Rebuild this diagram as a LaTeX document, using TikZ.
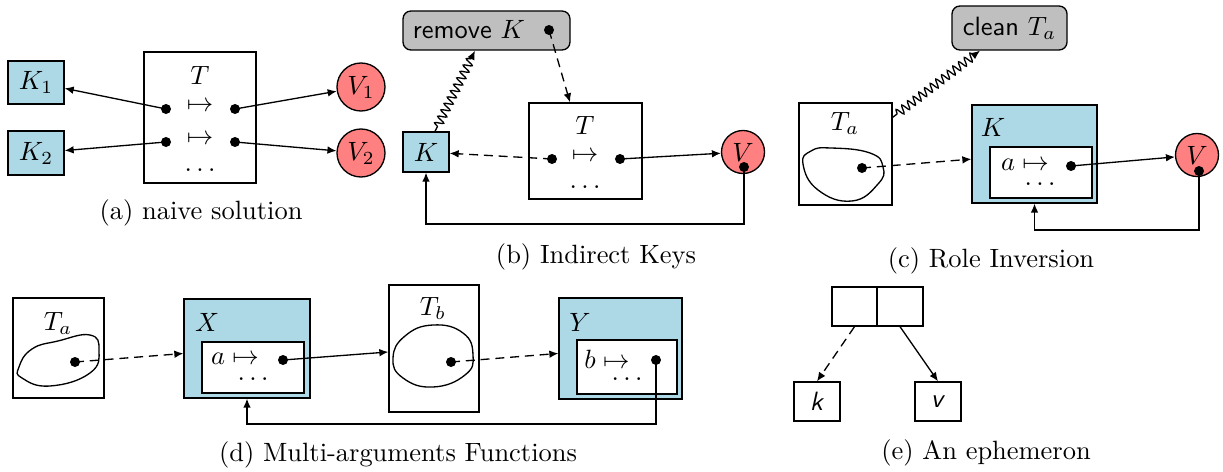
\documentclass[tikz,border=0pt]{standalone}
\usetikzlibrary{decorations.pathmorphing,calc,arrows.meta}
\definecolor{keyblue}{HTML}{ADD8E6}
\definecolor{valred}{HTML}{FF8080}
\newcommand\pxu{0.378pt}
\begin{document}
\begin{tikzpicture}[x=0.378pt,y=-0.378pt, line width=0.5pt, inner sep=0pt,
  keybox/.style={draw, fill=keyblue, inner sep=0},
  tblbox/.style={draw, fill=white, inner sep=0},
  valnode/.style={circle, draw, fill=valred, inner sep=0, minimum size=45*\pxu},
  dotn/.style={circle, fill=black, inner sep=0, minimum size=10*\pxu},
  actbox/.style={draw, fill=gray!50, rounded corners=3pt, inner sep=0},
  arr/.style={-{Latex[length=3.4pt,width=2.9pt]}},
  dasharr/.style={-{Latex[length=3.4pt,width=2.9pt]}, dash pattern=on 3.4pt off 2.2pt},
  snakearr/.style={-{Latex[length=3.4pt,width=2.9pt]}, decorate, decoration={snake, amplitude=1.6pt, segment length=2.7pt, pre length=2pt, post length=2.5pt}},
  blobline/.style={draw, smooth cycle, tension=0.8},
  capt/.style={inner sep=0}]
\useasboundingbox (0,0) rectangle (1223,472);

% ---------- (a) ----------
\node[keybox, minimum width=56*\pxu, minimum height=43*\pxu] (K1) at (36,82.5) {$K_1$};
\node[keybox, minimum width=56*\pxu, minimum height=44*\pxu] (K2) at (36,153) {$K_2$};
\node[tblbox, minimum width=112*\pxu, minimum height=131*\pxu] (Ta) at (200,117.5) {};
\node (TaL) at (200,75) {$T$};
\node[dotn] (a1l) at (166,109) {};
\node[dotn] (a1r) at (235,109) {};
\node (a1m) at (200,107) {$\mapsto$};
\node[dotn] (a2l) at (166,142) {};
\node[dotn] (a2r) at (235,142) {};
\node (a2m) at (200,140) {$\mapsto$};
\node (adots) at (200,170) {$\dots$};
\node[valnode, minimum size=48*\pxu] (V1) at (361,87) {$V_1$};
\node[valnode, minimum size=48*\pxu] (V2) at (361,153) {$V_2$};
\draw[arr] (a1l.center) -- (K1);
\draw[arr] (a2l.center) -- (K2);
\draw[arr] (a1r.center) -- (V1);
\draw[arr] (a2r.center) -- (V2);
\node[capt] (capa) at (201,213) {(a) naive solution};

% ---------- (b) ----------
\node[actbox, minimum width=167*\pxu, minimum height=39*\pxu] (remb) at (486.5,30.5) {};
\node (remt) at (469,30) {\textsf{remove} $K$};
\node[dotn] (remd) at (549,30) {};
\node[keybox, minimum width=46*\pxu, minimum height=40*\pxu] (Kb) at (426,152) {$K$};
\node[tblbox, minimum width=113*\pxu, minimum height=96*\pxu] (Tb) at (585.5,151) {};
\node (TbL) at (585,125) {$T$};
\node[dotn] (bl) at (552,159) {};
\node[dotn] (br) at (620,159) {};
\node (bm) at (585,157) {$\mapsto$};
\node (bdots) at (585,187) {$\dots$};
\node[valnode, minimum size=43*\pxu] (Vb) at (743,152) {$V$};
\node[dotn] (Vbd) at (744,167) {};
\draw[snakearr] ($(Kb.north)+(9,0)$) -- ($(remb.south)+(-11.5,0)$);
\draw[dasharr] (remd.center) -- ($(Tb.north)+(-15.5,0)$);
\draw[dasharr] (bl.center) -- (Kb);
\draw[arr] (br.center) -- (Vb);
\draw[arr] (Vbd.center) -- ++(0,57) -| (Kb.south);
\node[capt] (capb) at (596,257) {(b) Indirect Keys};

% ---------- (c) ----------
\node[actbox, minimum width=115*\pxu, minimum height=44*\pxu] (clean) at (1009.5,28) {\textsf{clean} $T_a$};
\node[tblbox, minimum width=93*\pxu, minimum height=102*\pxu] (Tc) at (845.5,154) {};
\node (TcL) at (845,123) {$T_a$};
\draw plot[blobline] coordinates {(803,164) (811,151) (831,148) (870,153) (883,167) (878,184) (852,201) (818,190)};
\node[dotn] (cd) at (862,168) {};
\node[keybox, minimum width=125*\pxu, minimum height=98*\pxu] (Kc) at (1034.5,154) {};
\node (KcL) at (993,127) {$K$};
\node[tblbox, minimum width=102*\pxu, minimum height=51*\pxu] (Ic) at (1041,172.5) {};
\node (cm) at (1025,165) {$a\mapsto$};
\node[dotn] (cdd) at (1071,166) {};
\node (cdots) at (1040,184) {$\dots$};
\node[valnode, minimum size=43*\pxu] (Vc) at (1197,155) {$V$};
\node[dotn] (Vcd) at (1199,171) {};
\draw[snakearr] ($(Tc.north east)+(0,15)$) -- ($(clean.south)+(-29.5,0)$);
\draw[dasharr] (cd.center) -- (Kc);
\draw[arr] (cdd.center) -- (Vc);
\draw[arr] (Vcd.center) -- ++(0,59) -| (Kc.south);
\node[capt] (capc) at (991,261) {(c) Role Inversion};

% ---------- (d) ----------
\node[tblbox, minimum width=91*\pxu, minimum height=100*\pxu] (Td) at (58.5,348) {};
\node (TdL) at (58,323) {$T_a$};
\draw plot[blobline] coordinates {(19,367) (32,349) (58,341) (90,335) (99,350) (90,373) (50,386) (22,378)};
\node[dotn] (dd1) at (75,362) {};
\node[keybox, minimum width=126*\pxu, minimum height=99*\pxu] (Xd) at (247,348.5) {};
\node (XdL) at (207,322) {$X$};
\node[tblbox, minimum width=102*\pxu, minimum height=51*\pxu] (Id) at (253,367.5) {};
\node (dm) at (235,359) {$a\mapsto$};
\node[dotn] (dd2) at (283,360) {};
\node (ddots) at (253,379) {$\dots$};
\node[tblbox, minimum width=90*\pxu, minimum height=127*\pxu] (Tbd) at (434,348.5) {};
\node (TbdL) at (433,308) {$T_b$};
\draw plot[blobline] coordinates {(393,358) (405,336) (433,325) (463,333) (473,355) (465,375) (433,387) (403,378)};
\node[dotn] (dd3) at (451,362) {};
\node[keybox, minimum width=123*\pxu, minimum height=101*\pxu] (Yd) at (620.5,348.5) {};
\node (YdL) at (580,322) {$Y$};
\node[tblbox, minimum width=100*\pxu, minimum height=54*\pxu] (Jd) at (627,367) {};
\node (dm2) at (607,359) {$b\mapsto$};
\node[dotn] (dd4) at (656,360) {};
\node (ddots2) at (627,379) {$\dots$};
\draw[dasharr] (dd1.center) -- (Xd);
\draw[arr] (dd2.center) -- (Tbd);
\draw[dasharr] (dd3.center) -- (Yd);
\draw[arr] (dd4.center) -- ++(0,64) -| (Xd.south);
\node[capt] (capd) at (398,455) {(d) Multi-arguments Functions};

% ---------- (e) ----------
\node[draw, inner sep=0, minimum width=45*\pxu, minimum height=39*\pxu] (cl) at (854.5,306.5) {};
\node[draw, inner sep=0, minimum width=46*\pxu, minimum height=39*\pxu] (cr) at (900,306.5) {};
\node[draw, inner sep=0, minimum width=46*\pxu, minimum height=39*\pxu] (kk) at (817,401.5) {\textsf{\textit{k}}};
\node[draw, inner sep=0, minimum width=46*\pxu, minimum height=39*\pxu] (vv) at (938,401.5) {\textsf{\textit{v}}};
\draw[dasharr] (cl.south) -- (kk.north);
\draw[arr] (cr.south) -- (vv.north);
\node[capt] (cape) at (986,453) {(e) An ephemeron};
\end{tikzpicture}
\end{document}
